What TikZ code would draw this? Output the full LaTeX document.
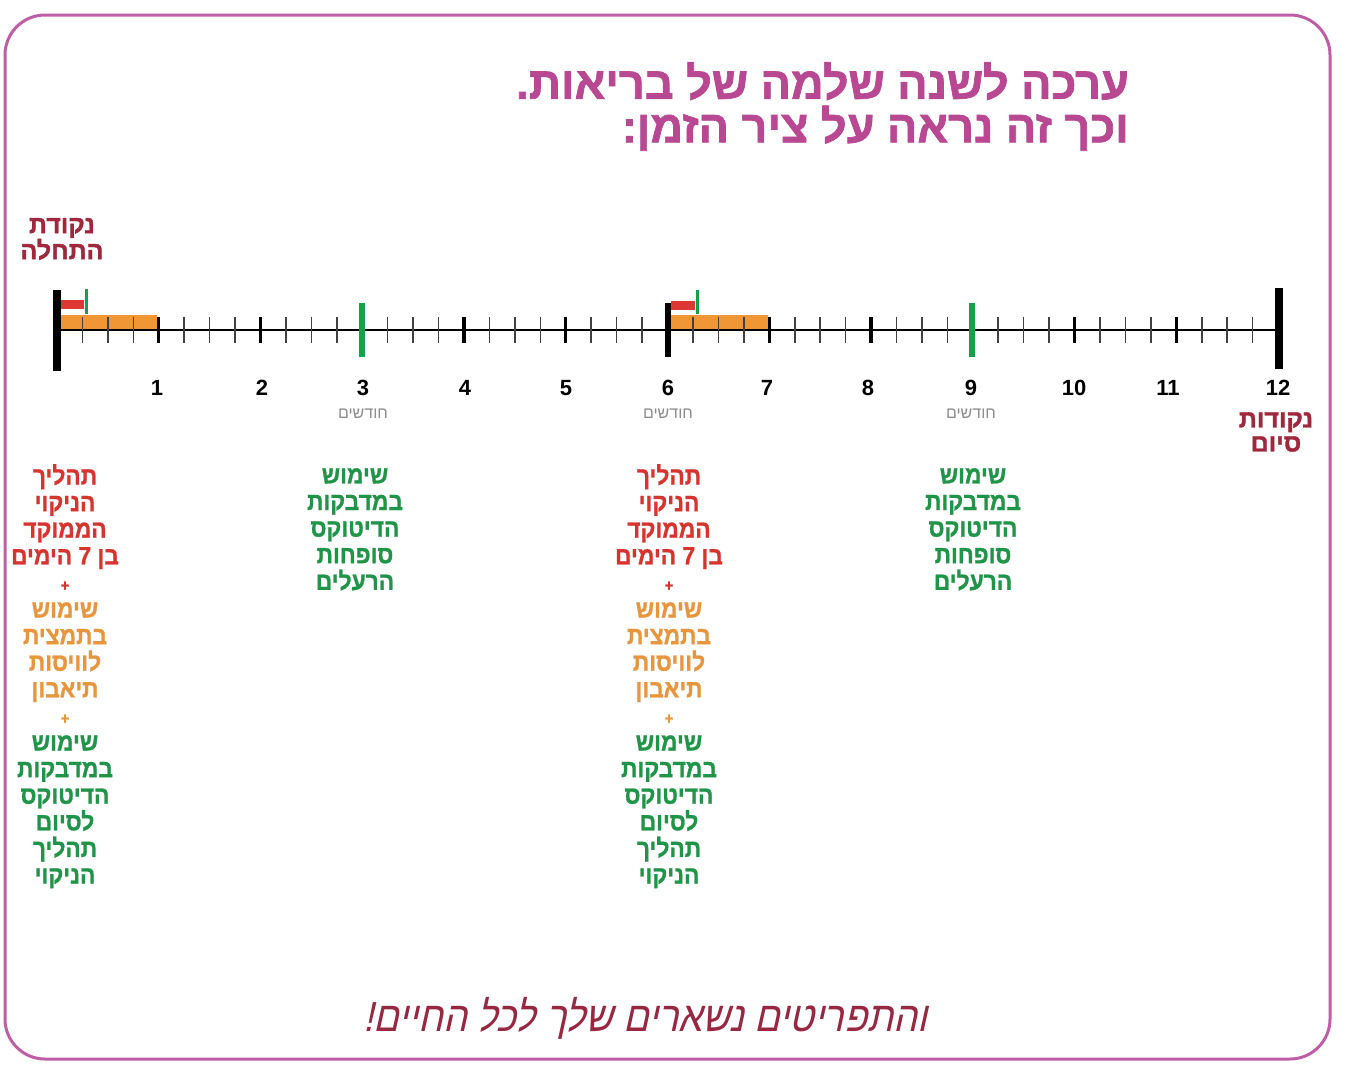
\documentclass[tikz,border=0pt]{standalone}
\usepackage{fontspec}
\TeXXeTstate=1
\setmainfont{Liberation Sans}
\newfontfamily\hebC[Script=Hebrew,FakeStretch=0.91,BoldFeatures={FakeBold=1.0}]{Liberation Sans}
\newfontfamily\hebT[Script=Hebrew,FakeStretch=1.0,BoldFeatures={FakeBold=1.5}]{Liberation Sans}
\newfontfamily\hebR[Script=Hebrew]{Liberation Sans}
\newfontfamily\hebS[Script=Hebrew,FakeSlant=0.22,FakeStretch=0.9]{Liberation Sans}
\newcommand\heb[1]{\beginR#1\endR}
\definecolor{framecol}{RGB}{190,95,165}
\definecolor{titlecol}{RGB}{184,72,146}
\definecolor{darkred}{RGB}{160,40,62}
\definecolor{tred}{RGB}{214,52,46}
\definecolor{torange}{RGB}{232,150,62}
\definecolor{tgreen}{RGB}{32,148,72}
\definecolor{obar}{RGB}{240,150,52}
\definecolor{rbar}{RGB}{222,56,52}
\definecolor{gtick}{RGB}{22,160,72}
\definecolor{bottomcol}{RGB}{150,40,66}
\newcommand\txR[1]{\textcolor{tred}{\heb{#1}}}
\newcommand\txO[1]{\textcolor{torange}{\heb{#1}}}
\newcommand\txG[1]{\textcolor{tgreen}{\heb{#1}}}
\newcommand\txP[1]{\textcolor{#1}{\fontsize{16}{26.6}\selectfont +}}
\tikzset{
  coltext/.style={anchor=north, align=center, inner sep=0pt,
    font=\hebC\bfseries\fontsize{25}{26.6}\selectfont},
  numlab/.style={font=\bfseries\fontsize{22}{24}\selectfont, inner sep=0pt},
  monthlab/.style={font=\hebR\fontsize{16}{18}\selectfont, text=black!45, inner sep=0pt},
  endlab/.style={align=center, inner sep=0pt, text=darkred,
    font=\hebT\bfseries\fontsize{25}{24}\selectfont},
  minortick/.style={draw=black!75, line width=1.6},
  majortick/.style={draw=black, line width=3.2},
}
\begin{document}
\begin{tikzpicture}[x=1pt,y=-1pt]
\useasboundingbox (0,0) rectangle (1348,1082);
\fill[white] (0,0) rectangle (1348,1082);
\draw[framecol, line width=3, rounded corners=40] (5,15) rectangle (1330,1059);

% title
\node[anchor=north east, align=right, inner sep=0pt, text=titlecol,
  font=\hebT\bfseries\fontsize{45}{43.5}\selectfont] (title) at (1129,62)
  {\heb{ערכה לשנה שלמה של בריאות.}\\\heb{וכך זה נראה על ציר הזמן:}};

% bars behind axis
\fill[obar] (61,315) rectangle (157,330);
\fill[obar] (671,315) rectangle (768,330);
\fill[rbar] (61,300) rectangle (84,309);
\fill[rbar] (671,301) rectangle (695,310);

% axis
\coordinate (ax0) at (57,330);
\coordinate (ax12) at (1278,330);
\draw[black, line width=1.6] (ax0) -- (ax12);
\foreach \i in {1,...,47}{
  \pgfmathtruncatemacro\r{mod(\i,4)}
  \ifnum\r=0\relax\else
    \draw[minortick] ({57+\i*25.4375},317) -- ++(0,26);
  \fi
}
\foreach \m in {1,2,4,5,7,8,10,11}
  \draw[majortick] ({57+\m*101.75},317) -- ++(0,26);

\draw[gtick, line width=3] (86,289) -- (86,314);
\draw[gtick, line width=3] (697,290) -- (697,314);
\draw[black, line width=8] (57,290) -- (57,371);
\draw[black, line width=8] (1279,288) -- (1279,369);
\draw[black, line width=6] (668,303) -- (668,357);
\draw[gtick, line width=6] (362,303) -- (362,357);
\draw[gtick, line width=6] (972,303) -- (972,357);

% numbers
\foreach \m/\xx in {1/157,2/262,3/363,4/465,5/566,6/668,7/767,8/868,9/971,10/1074,11/1168,12/1278}
  \node[numlab] (n\m) at (\xx,388) {\m};
\foreach \m/\xx in {3/363,6/668,9/971}
  \node[monthlab] (mo\m) at (\xx,414) {\heb{חודשים}};

% start / end labels
\node[endlab] (start) at (62,239) {\heb{נקודת}\\\heb{התחלה}};
\node[endlab] (finish) at (1276,432) {\heb{נקודות}\\\heb{סיום}};

% columns
\node[coltext] (c0) at (65,464) {\txR{תהליך}\\\txR{הניקוי}\\\txR{הממוקד}\\\txR{בן 7 הימים}\\\txP{tred}\\
  \txO{שימוש}\\\txO{בתמצית}\\\txO{לוויסות}\\\txO{תיאבון}\\\txP{torange}\\
  \txG{שימוש}\\\txG{במדבקות}\\\txG{הדיטוקס}\\\txG{לסיום}\\\txG{תהליך}\\\txG{הניקוי}};
\node[coltext] (c6) at (669,464) {\txR{תהליך}\\\txR{הניקוי}\\\txR{הממוקד}\\\txR{בן 7 הימים}\\\txP{tred}\\
  \txO{שימוש}\\\txO{בתמצית}\\\txO{לוויסות}\\\txO{תיאבון}\\\txP{torange}\\
  \txG{שימוש}\\\txG{במדבקות}\\\txG{הדיטוקס}\\\txG{לסיום}\\\txG{תהליך}\\\txG{הניקוי}};
\node[coltext] (c3) at (355,468) {\txG{שימוש}\\\txG{במדבקות}\\\txG{הדיטוקס}\\\txG{סופחות}\\\txG{הרעלים}};
\node[coltext] (c9) at (973,468) {\txG{שימוש}\\\txG{במדבקות}\\\txG{הדיטוקס}\\\txG{סופחות}\\\txG{הרעלים}};

% bottom slogan
\node[inner sep=0pt, text=bottomcol, font=\hebS\fontsize{42}{44}\selectfont] (slogan) at (645,1018)
  {\heb{והתפריטים נשארים שלך לכל החיים!}};
\end{tikzpicture}
\end{document}
